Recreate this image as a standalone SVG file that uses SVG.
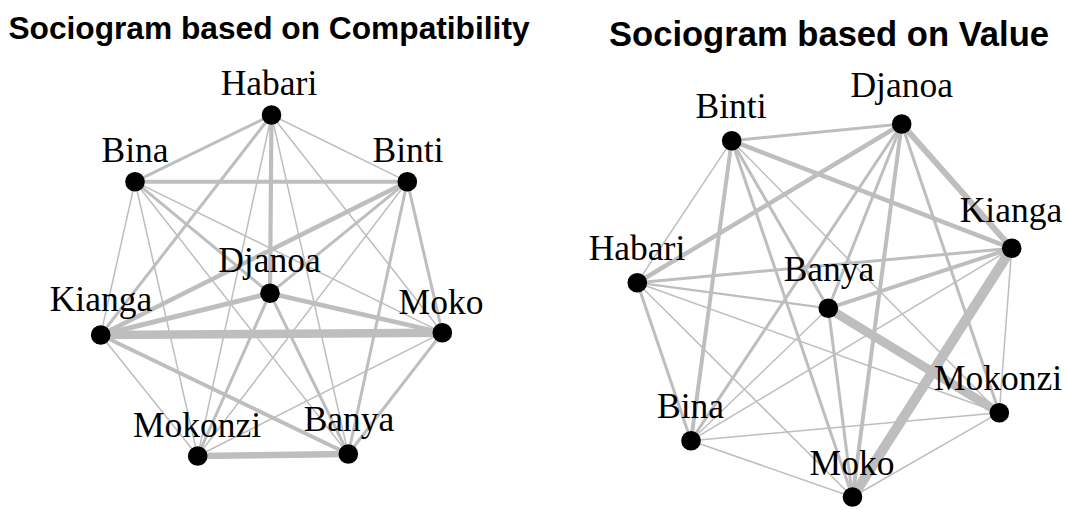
<svg xmlns="http://www.w3.org/2000/svg" width="1066" height="510" viewBox="0 0 1066 510">
  <style>
    .title { font-family: "Liberation Sans", Arial, sans-serif; font-weight: bold; fill: #000; text-anchor: middle; }
    .lbl { font-family: "Liberation Serif", "Times New Roman", serif; font-size: 35.5px; fill: #000; text-anchor: middle; }
    .edges line { stroke: #bebebe; stroke-linecap: butt; fill: none; }
    .v { fill: #000; }
  </style>
  <rect x="0" y="0" width="1066" height="510" fill="#fff"/>

  <text class="title" x="269" y="39" font-size="31.7">Sociogram based on Compatibility</text>
  <text class="title" x="829" y="46" font-size="34.6">Sociogram based on Value</text>

  <!-- Left network: edges weighted by compatibility -->
  <g id="edges-compatibility" class="edges">
    <line x1="271.5" y1="115" x2="135" y2="181.7" stroke-width="3"/>
    <line x1="271.5" y1="115" x2="407.3" y2="181.7" stroke-width="1.5"/>
    <line x1="271.5" y1="115" x2="270" y2="293.3" stroke-width="4.2"/>
    <line x1="271.5" y1="115" x2="100.7" y2="335" stroke-width="3"/>
    <line x1="271.5" y1="115" x2="442.3" y2="332.7" stroke-width="1.5"/>
    <line x1="271.5" y1="115" x2="197.7" y2="456" stroke-width="1.5"/>
    <line x1="271.5" y1="115" x2="348.3" y2="454" stroke-width="1.5"/>

    <line x1="135" y1="181.7" x2="407.3" y2="181.7" stroke-width="4"/>
    <line x1="135" y1="181.7" x2="270" y2="293.3" stroke-width="3"/>
    <line x1="135" y1="181.7" x2="100.7" y2="335" stroke-width="1.5"/>
    <line x1="135" y1="181.7" x2="442.3" y2="332.7" stroke-width="1.5"/>
    <line x1="135" y1="181.7" x2="197.7" y2="456" stroke-width="1.5"/>
    <line x1="135" y1="181.7" x2="348.3" y2="454" stroke-width="1.5"/>

    <line x1="407.3" y1="181.7" x2="270" y2="293.3" stroke-width="3"/>
    <line x1="407.3" y1="181.7" x2="100.7" y2="335" stroke-width="4.5"/>
    <line x1="407.3" y1="181.7" x2="442.3" y2="332.7" stroke-width="3"/>
    <line x1="407.3" y1="181.7" x2="197.7" y2="456" stroke-width="1.5"/>
    <line x1="407.3" y1="181.7" x2="348.3" y2="454" stroke-width="3"/>

    <line x1="270" y1="293.3" x2="100.7" y2="335" stroke-width="5"/>
    <line x1="270" y1="293.3" x2="442.3" y2="332.7" stroke-width="4.5"/>
    <line x1="270" y1="293.3" x2="197.7" y2="456" stroke-width="3"/>
    <line x1="270" y1="293.3" x2="348.3" y2="454" stroke-width="3"/>

    <line x1="100.7" y1="335" x2="442.3" y2="332.7" stroke-width="8.5"/>
    <line x1="100.7" y1="335" x2="197.7" y2="456" stroke-width="1.5"/>
    <line x1="100.7" y1="335" x2="348.3" y2="454" stroke-width="4"/>

    <line x1="442.3" y1="332.7" x2="197.7" y2="456" stroke-width="1.5"/>
    <line x1="442.3" y1="332.7" x2="348.3" y2="454" stroke-width="3"/>

    <line x1="197.7" y1="456" x2="348.3" y2="454" stroke-width="6.5"/>
  </g>

  <!-- Right network: edges weighted by value -->
  <g id="edges-value" class="edges">
    <line x1="731.7" y1="140.7" x2="901.7" y2="124" stroke-width="3"/>
    <line x1="731.7" y1="140.7" x2="1011.7" y2="248.3" stroke-width="4.5"/>
    <line x1="731.7" y1="140.7" x2="637.3" y2="282.7" stroke-width="1.5"/>
    <line x1="731.7" y1="140.7" x2="691" y2="440.7" stroke-width="4"/>
    <line x1="731.7" y1="140.7" x2="852.5" y2="497" stroke-width="3"/>
    <line x1="731.7" y1="140.7" x2="828.3" y2="308.3" stroke-width="3"/>
    <line x1="731.7" y1="140.7" x2="999.3" y2="412.7" stroke-width="1.5"/>

    <line x1="901.7" y1="124" x2="637.3" y2="282.7" stroke-width="4.5"/>
    <line x1="901.7" y1="124" x2="1011.7" y2="248.3" stroke-width="6"/>
    <line x1="901.7" y1="124" x2="691" y2="440.7" stroke-width="3"/>
    <line x1="901.7" y1="124" x2="828.3" y2="308.3" stroke-width="3"/>
    <line x1="901.7" y1="124" x2="852.5" y2="497" stroke-width="4"/>
    <line x1="901.7" y1="124" x2="999.3" y2="412.7" stroke-width="3"/>

    <line x1="1011.7" y1="248.3" x2="637.3" y2="282.7" stroke-width="3"/>
    <line x1="1011.7" y1="248.3" x2="828.3" y2="308.3" stroke-width="4"/>
    <line x1="1011.7" y1="248.3" x2="852.5" y2="497" stroke-width="10"/>
    <line x1="1011.7" y1="248.3" x2="999.3" y2="412.7" stroke-width="1.5"/>
    <line x1="1011.7" y1="248.3" x2="691" y2="440.7" stroke-width="1.5"/>

    <line x1="637.3" y1="282.7" x2="828.3" y2="308.3" stroke-width="2.2"/>
    <line x1="637.3" y1="282.7" x2="999.3" y2="412.7" stroke-width="1.5"/>
    <line x1="637.3" y1="282.7" x2="852.5" y2="497" stroke-width="1.5"/>
    <line x1="637.3" y1="282.7" x2="691" y2="440.7" stroke-width="3"/>

    <line x1="828.3" y1="308.3" x2="999.3" y2="412.7" stroke-width="9"/>
    <line x1="828.3" y1="308.3" x2="852.5" y2="497" stroke-width="3"/>
    <line x1="828.3" y1="308.3" x2="691" y2="440.7" stroke-width="1.5"/>

    <line x1="999.3" y1="412.7" x2="691" y2="440.7" stroke-width="1.5"/>
    <line x1="999.3" y1="412.7" x2="852.5" y2="497" stroke-width="1.5"/>

    <line x1="691" y1="440.7" x2="852.5" y2="497" stroke-width="1.5"/>
  </g>

  <!-- Left network vertices -->
  <g id="c-habari"><circle class="v" cx="271.5" cy="115" r="9.8"/><text class="lbl" x="269" y="95">Habari</text></g>
  <g id="c-bina"><circle class="v" cx="135" cy="181.7" r="9.8"/><text class="lbl" x="135" y="161.7">Bina</text></g>
  <g id="c-binti"><circle class="v" cx="407.3" cy="181.7" r="9.8"/><text class="lbl" x="408" y="161.7">Binti</text></g>
  <g id="c-djanoa"><circle class="v" cx="270" cy="293.3" r="9.8"/><text class="lbl" x="269.5" y="271.7">Djanoa</text></g>
  <g id="c-kianga"><circle class="v" cx="100.7" cy="335" r="9.8"/><text class="lbl" x="101" y="310.7">Kianga</text></g>
  <g id="c-moko"><circle class="v" cx="442.3" cy="332.7" r="9.8"/><text class="lbl" x="441" y="314">Moko</text></g>
  <g id="c-mokonzi"><circle class="v" cx="197.7" cy="456" r="9.8"/><text class="lbl" x="197" y="436.7">Mokonzi</text></g>
  <g id="c-banya"><circle class="v" cx="348.3" cy="454" r="9.8"/><text class="lbl" x="349" y="430.7">Banya</text></g>

  <!-- Right network vertices -->
  <g id="v-binti"><circle class="v" cx="731.7" cy="140.7" r="9.8"/><text class="lbl" x="731" y="118.3">Binti</text></g>
  <g id="v-djanoa"><circle class="v" cx="901.7" cy="124" r="9.8"/><text class="lbl" x="901.7" y="97.3">Djanoa</text></g>
  <g id="v-kianga"><circle class="v" cx="1011.7" cy="248.3" r="9.8"/><text class="lbl" x="1011" y="222.3">Kianga</text></g>
  <g id="v-habari"><circle class="v" cx="637.3" cy="282.7" r="9.8"/><text class="lbl" x="637" y="260">Habari</text></g>
  <g id="v-banya"><circle class="v" cx="828.3" cy="308.3" r="9.8"/><text class="lbl" x="829" y="280.7">Banya</text></g>
  <g id="v-mokonzi"><circle class="v" cx="999.3" cy="412.7" r="9.8"/><text class="lbl" x="998" y="390">Mokonzi</text></g>
  <g id="v-bina"><circle class="v" cx="691" cy="440.7" r="9.8"/><text class="lbl" x="690.5" y="417.7">Bina</text></g>
  <g id="v-moko"><circle class="v" cx="852.5" cy="497" r="9.8"/><text class="lbl" x="852" y="475">Moko</text></g>
</svg>
